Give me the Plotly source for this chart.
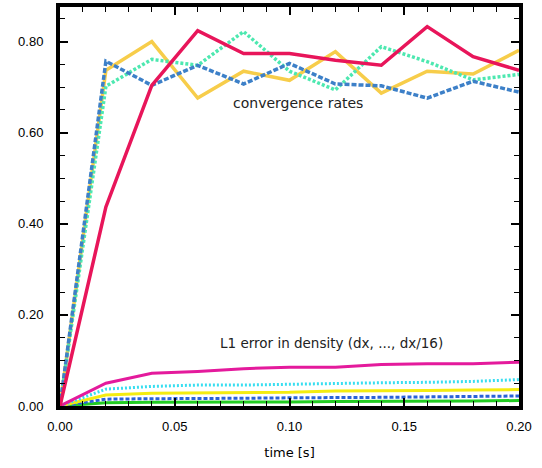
import plotly.graph_objects as go

t = [0.00, 0.02, 0.04, 0.06, 0.08, 0.10, 0.12, 0.14, 0.16, 0.18, 0.20]

# convergence rates
rate_red = [0.0, 0.437, 0.704, 0.824, 0.774, 0.774, 0.759, 0.748, 0.833, 0.767, 0.737]
rate_yellow = [0.0, 0.737, 0.800, 0.676, 0.735, 0.715, 0.778, 0.687, 0.735, 0.729, 0.781]
rate_aqua = [0.0, 0.702, 0.761, 0.748, 0.822, 0.735, 0.694, 0.789, 0.756, 0.716, 0.728]
rate_blue = [0.0, 0.757, 0.704, 0.748, 0.707, 0.752, 0.707, 0.703, 0.676, 0.713, 0.689]

# L1 errors in density
err_dx = [0.0, 0.050, 0.072, 0.076, 0.082, 0.085, 0.085, 0.091, 0.093, 0.093, 0.096]
err_dx2 = [0.0, 0.037, 0.043, 0.046, 0.046, 0.048, 0.050, 0.051, 0.052, 0.054, 0.058]
err_dx4 = [0.0, 0.024, 0.028, 0.029, 0.029, 0.030, 0.033, 0.033, 0.034, 0.035, 0.036]
err_dx8 = [0.0, 0.015, 0.016, 0.016, 0.017, 0.018, 0.018, 0.019, 0.020, 0.021, 0.022]
err_dx16 = [0.0, 0.007, 0.008, 0.008, 0.009, 0.009, 0.010, 0.010, 0.011, 0.011, 0.012]

x_ticks = [0.00, 0.05, 0.10, 0.15, 0.20]
x_tick_labels = ["0.00", "0.05", "0.10", "0.15", "0.20"]
y_ticks = [0.0, 0.2, 0.4, 0.6, 0.8]
y_tick_labels = ["0.00", "0.20", "0.40", "0.60", "0.80"]

fig = go.Figure()

def add(y, color, dash="solid", width=3.5):
    fig.add_trace(go.Scatter(x=t, y=y, mode="lines",
                             line=dict(color=color, width=width, dash=dash),
                             showlegend=False, hoverinfo="skip"))

add(err_dx16, "#22cc22", "solid", 3)
add(err_dx8, "#2a62d8", "4px,2px", 3)
add(err_dx4, "#f4ec10", "solid", 3)
add(err_dx2, "#38def0", "2px,2px", 3)
add(err_dx, "#e41a9c", "solid", 3)

add(rate_yellow, "#f7cd4a", "solid")
add(rate_aqua, "#4de8b0", "3px,2px")
add(rate_blue, "#3d80c8", "5px,2px")
add(rate_red, "#e8155a", "solid")

fig.add_annotation(x=0.1035, y=0.665, text="convergence rates", showarrow=False,
                   font=dict(family="DejaVu Sans", size=14, color="#222"))
fig.add_annotation(x=0.1185, y=0.138, text="L1 error in density (dx, ..., dx/16)",
                   showarrow=False, font=dict(family="DejaVu Sans", size=13.5, color="#222"))

axis_common = dict(showline=True, linewidth=4, linecolor="black", mirror="allticks",
                   ticks="inside", ticklen=8, tickwidth=2, tickcolor="black",
                   showgrid=False, zeroline=False,
                   tickfont=dict(family="Liberation Sans", size=13, color="black"))

fig.update_xaxes(range=[0, 0.2], tickvals=x_ticks, ticktext=x_tick_labels,
                 minor=dict(dtick=0.01, tick0=0, ticks="inside", ticklen=5, tickwidth=1,
                            tickcolor="black", showgrid=False),
                 title=dict(text="time [s]", font=dict(family="DejaVu Sans", size=13, color="black"),
                            standoff=16),
                 ticklabelstandoff=5, **axis_common)
fig.update_yaxes(range=[0, 0.876], tickvals=y_ticks, ticktext=y_tick_labels,
                 minor=dict(dtick=0.05, tick0=0, ticks="inside", ticklen=5, tickwidth=1,
                            tickcolor="black", showgrid=False),
                 ticklabelstandoff=10, **axis_common)

fig.update_layout(width=542, height=468, margin=dict(l=60, r=23, t=3, b=62),
                  paper_bgcolor="white", plot_bgcolor="white")

fig.write_html("out.html", config={"displayModeBar": False},
               post_script="document.body.style.margin='0';document.body.style.padding='0';")
